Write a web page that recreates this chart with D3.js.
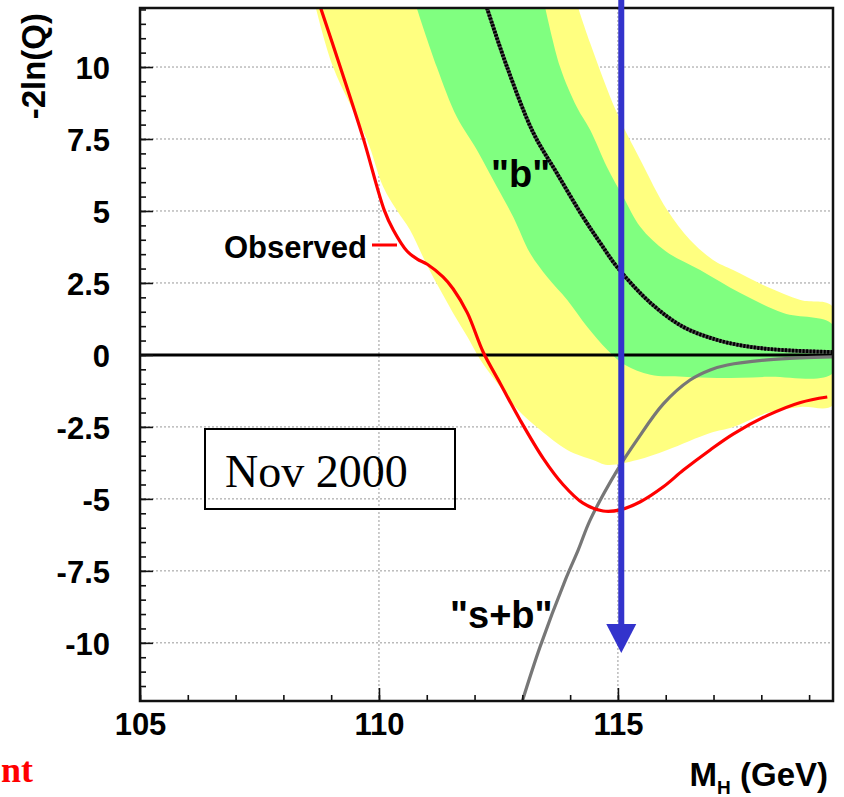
<!DOCTYPE html>
<html><head><meta charset="utf-8">
<script src="https://cdn.jsdelivr.net/npm/d3@7"></script>
<style>body{margin:0;background:#fff} svg{display:block}</style>
</head><body><svg id="c" width="844" height="797"></svg>
<script>
// ---- data (mass in GeV, -2ln(Q)) ----
const yTickValues = [-10, -7.5, -5, -2.5, 0, 2.5, 5, 7.5, 10];
const yTickLabels = ["-10", "-7.5", "-5", "-2.5", "0", "2.5", "5", "7.5", "10"];
const xTickValues = [105, 110, 115];
const xTickLabels = ["105", "110", "115"];

const observed = [[108.78,12.05],[109.19,10.0],[109.67,7.53],[110.11,5.03],[110.30,4.34],[110.59,3.6],[110.8,3.33],[111.01,3.15],[111.34,2.71],[111.55,2.3],[111.85,1.46],[112.18,0.1],[112.54,-1.0],[112.95,-2.25],[113.44,-3.6],[113.85,-4.5],[114.27,-5.15],[114.69,-5.42],[115.05,-5.38],[115.47,-5.1],[115.95,-4.58],[116.37,-4.0],[116.93,-3.3],[117.41,-2.75],[118.13,-2.1],[118.82,-1.65],[119.38,-1.46]];
const expectedB = [[112.26,12.05],[112.68,10.0],[113.23,7.71],[113.72,6.32],[114.27,4.79],[114.63,3.89],[114.98,3.06],[115.68,1.81],[116.37,0.97],[117.08,0.52],[117.77,0.28],[118.46,0.17],[119.5,0.10]];
const expectedSB = [[113.0,-12.02],[113.37,-10.14],[113.90,-7.81],[114.17,-6.77],[114.42,-5.73],[114.99,-3.99],[115.40,-2.95],[115.95,-1.70],[116.51,-0.87],[116.93,-0.52],[117.29,-0.35],[118.13,-0.17],[118.82,-0.10],[119.5,-0.07]];
const greenLower = [[110.79,12.05],[111.21,10.0],[111.63,8.26],[112.05,7.12],[112.47,5.83],[112.81,4.79],[113.16,3.54],[113.52,2.71],[113.94,1.91],[114.36,0.97],[114.78,0.17],[115.15,-0.35],[115.68,-0.69],[116.37,-0.76],[117.08,-0.80],[118.13,-0.76],[119.5,-0.63]];
const greenUpper = [[113.48,12.05],[113.79,10.0],[114.14,8.61],[114.42,7.81],[114.77,6.53],[115.11,5.49],[115.47,4.44],[116.0,3.6],[116.72,2.95],[117.56,2.15],[118.46,1.46],[119.5,1.04]];
const yellowLower = [[108.68,12.05],[109.04,10.0],[109.75,7.47],[110.09,5.83],[110.37,5.03],[110.65,4.34],[111.0,3.13],[111.28,2.26],[111.55,1.46],[111.85,0.63],[112.12,-0.17],[112.47,-0.97],[112.89,-1.88],[113.37,-2.60],[113.94,-3.30],[114.48,-3.65],[114.78,-3.82],[115.40,-3.65],[116.03,-3.30],[116.93,-2.71],[117.41,-2.50],[118.13,-2.01],[118.82,-1.81],[119.5,-1.74]];
const yellowUpper = [[114.17,12.05],[114.42,10.83],[114.98,8.40],[115.47,6.77],[116.03,5.03],[116.51,3.99],[116.99,3.30],[117.41,2.95],[118.13,2.36],[118.82,1.91],[119.5,1.67]];
const arrowMass = 115.07;
const arrowTop = 12.35;
const arrowTip = -10.35;

// ---- scales ----
const svg = d3.select("#c");
const L = 140, R = 833, T = 8, B = 701;
const x = d3.scaleLinear().domain([105, 119.5]).range([L, R]);
const y = d3.scaleLinear().domain([-12.02, 12.05]).range([B, T]);

svg.append("rect").attr("width", 844).attr("height", 797).attr("fill", "#fff");
svg.append("defs").append("clipPath").attr("id", "plot")
  .append("rect").attr("x", L).attr("y", T).attr("width", R - L).attr("height", B - T);

// grid
const grid = svg.append("g").attr("stroke", "#999").attr("stroke-width", 1).attr("stroke-dasharray", "2,2");
grid.selectAll("line.h").data(yTickValues.filter(v => v !== 0)).join("line")
  .attr("x1", L).attr("x2", R).attr("y1", d => y(d)).attr("y2", d => y(d));
grid.selectAll("line.v").data(xTickValues.filter(v => v !== 105)).join("line")
  .attr("x1", d => x(d)).attr("x2", d => x(d)).attr("y1", T).attr("y2", B);

const plot = svg.append("g").attr("clip-path", "url(#plot)");
const line = d3.line().x(d => x(d[0])).y(d => y(d[1])).curve(d3.curveCatmullRom);
const band = (lo, up) => line(lo.concat(up.slice().reverse())) + "Z";

plot.append("path").attr("d", band(yellowLower, yellowUpper)).attr("fill", "#ffff80");
plot.append("path").attr("d", band(greenLower, greenUpper)).attr("fill", "#80ff80");

// zero line
plot.append("line").attr("x1", L).attr("x2", R).attr("y1", y(0)).attr("y2", y(0))
  .attr("stroke", "#000").attr("stroke-width", 3);

plot.append("path").attr("d", line(expectedSB)).attr("fill", "none")
  .attr("stroke", "#777").attr("stroke-width", 3.2);
plot.append("path").attr("d", line(expectedB)).attr("fill", "none")
  .attr("stroke", "#4a4a4a").attr("stroke-width", 3.8);
plot.append("path").attr("d", line(expectedB)).attr("fill", "none")
  .attr("stroke", "#000").attr("stroke-width", 3.8).attr("stroke-dasharray", "2,1.5");
plot.append("path").attr("d", line(observed)).attr("fill", "none")
  .attr("stroke", "#ff0000").attr("stroke-width", 3.2);

// frame
svg.append("rect").attr("x", L).attr("y", T).attr("width", R - L).attr("height", B - T)
  .attr("fill", "none").attr("stroke", "#111").attr("stroke-width", 2.5);

// axes
const fontSans = "'Liberation Sans', Arial, Helvetica, sans-serif";
const yAx = svg.append("g").attr("transform", `translate(${L},0)`)
  .call(d3.axisLeft(y).tickValues(yTickValues).tickFormat((d, i) => yTickLabels[i])
    .tickSizeInner(-13).tickSizeOuter(0).tickPadding(30));
const yMin = svg.append("g").attr("transform", `translate(${L},0)`)
  .call(d3.axisLeft(y).tickValues(d3.range(-12, 12.01, 0.5)).tickFormat("")
    .tickSizeInner(-6).tickSizeOuter(0));
const xAx = svg.append("g").attr("transform", `translate(0,${B})`)
  .call(d3.axisBottom(x).tickValues(xTickValues).tickFormat((d, i) => xTickLabels[i])
    .tickSizeInner(-13).tickSizeOuter(0).tickPadding(12));
const xMin = svg.append("g").attr("transform", `translate(0,${B})`)
  .call(d3.axisBottom(x).tickValues(d3.range(105, 119.5, 1)).tickFormat("")
    .tickSizeInner(-6).tickSizeOuter(0));
[yAx, yMin, xAx, xMin].forEach(g => {
  g.select(".domain").remove();
  g.selectAll(".tick line").attr("stroke", "#111").attr("stroke-width", 1.6);
  g.selectAll("text").attr("font-family", fontSans).attr("font-size", 31)
    .attr("font-weight", "bold").attr("fill", "#000");
});
yAx.selectAll("text").attr("dy", "0.37em");

// axis titles
svg.append("text").attr("transform", "translate(45,13) rotate(-90)")
  .attr("text-anchor", "end").attr("font-family", fontSans).attr("font-weight", "bold")
  .attr("font-size", 33).text("-2ln(Q)");
const xt = svg.append("text").attr("x", 828).attr("y", 786).attr("text-anchor", "end")
  .attr("font-family", fontSans).attr("font-weight", "bold").attr("font-size", 33);
xt.append("tspan").text("M");
xt.append("tspan").attr("font-size", 19).attr("dy", 8).text("H");
xt.append("tspan").attr("dy", -8).text(" (GeV)");

// annotations
svg.append("text").attr("x", 491).attr("y", 187).attr("font-family", fontSans)
  .attr("font-weight", "bold").attr("font-size", 38).text('"b"');
svg.append("text").attr("x", 450).attr("y", 628).attr("font-family", fontSans)
  .attr("font-weight", "bold").attr("font-size", 38).text('"s+b"');
svg.append("text").attr("x", 367).attr("y", 258).attr("text-anchor", "end")
  .attr("font-family", fontSans).attr("font-weight", "bold").attr("font-size", 31).text("Observed");
svg.append("line").attr("x1", 372).attr("x2", 397).attr("y1", 245).attr("y2", 245)
  .attr("stroke", "#ff0000").attr("stroke-width", 3);

// Nov 2000 box
svg.append("rect").attr("x", 205).attr("y", 429).attr("width", 250).attr("height", 80)
  .attr("fill", "none").attr("stroke", "#000").attr("stroke-width", 2);
svg.append("text").attr("x", 225).attr("y", 487).attr("font-family", "'Liberation Serif', 'Times New Roman', serif")
  .attr("font-size", 46).text("Nov 2000");

// red partial text at bottom-left
svg.append("text").attr("x", 1).attr("y", 782)
  .attr("font-family", "'Liberation Serif', 'Times New Roman', serif").attr("font-weight", "bold")
  .attr("font-size", 36).attr("fill", "#ff0000").text("nt");

// blue arrow
const ax = x(arrowMass);
svg.append("line").attr("x1", ax).attr("x2", ax).attr("y1", y(arrowTop)).attr("y2", y(arrowTip) - 26)
  .attr("stroke", "#3333cc").attr("stroke-width", 6);
svg.append("path")
  .attr("d", `M${ax - 15},${y(arrowTip) - 29}L${ax + 15},${y(arrowTip) - 29}L${ax},${y(arrowTip)}Z`)
  .attr("fill", "#3333cc");
</script></body></html>
